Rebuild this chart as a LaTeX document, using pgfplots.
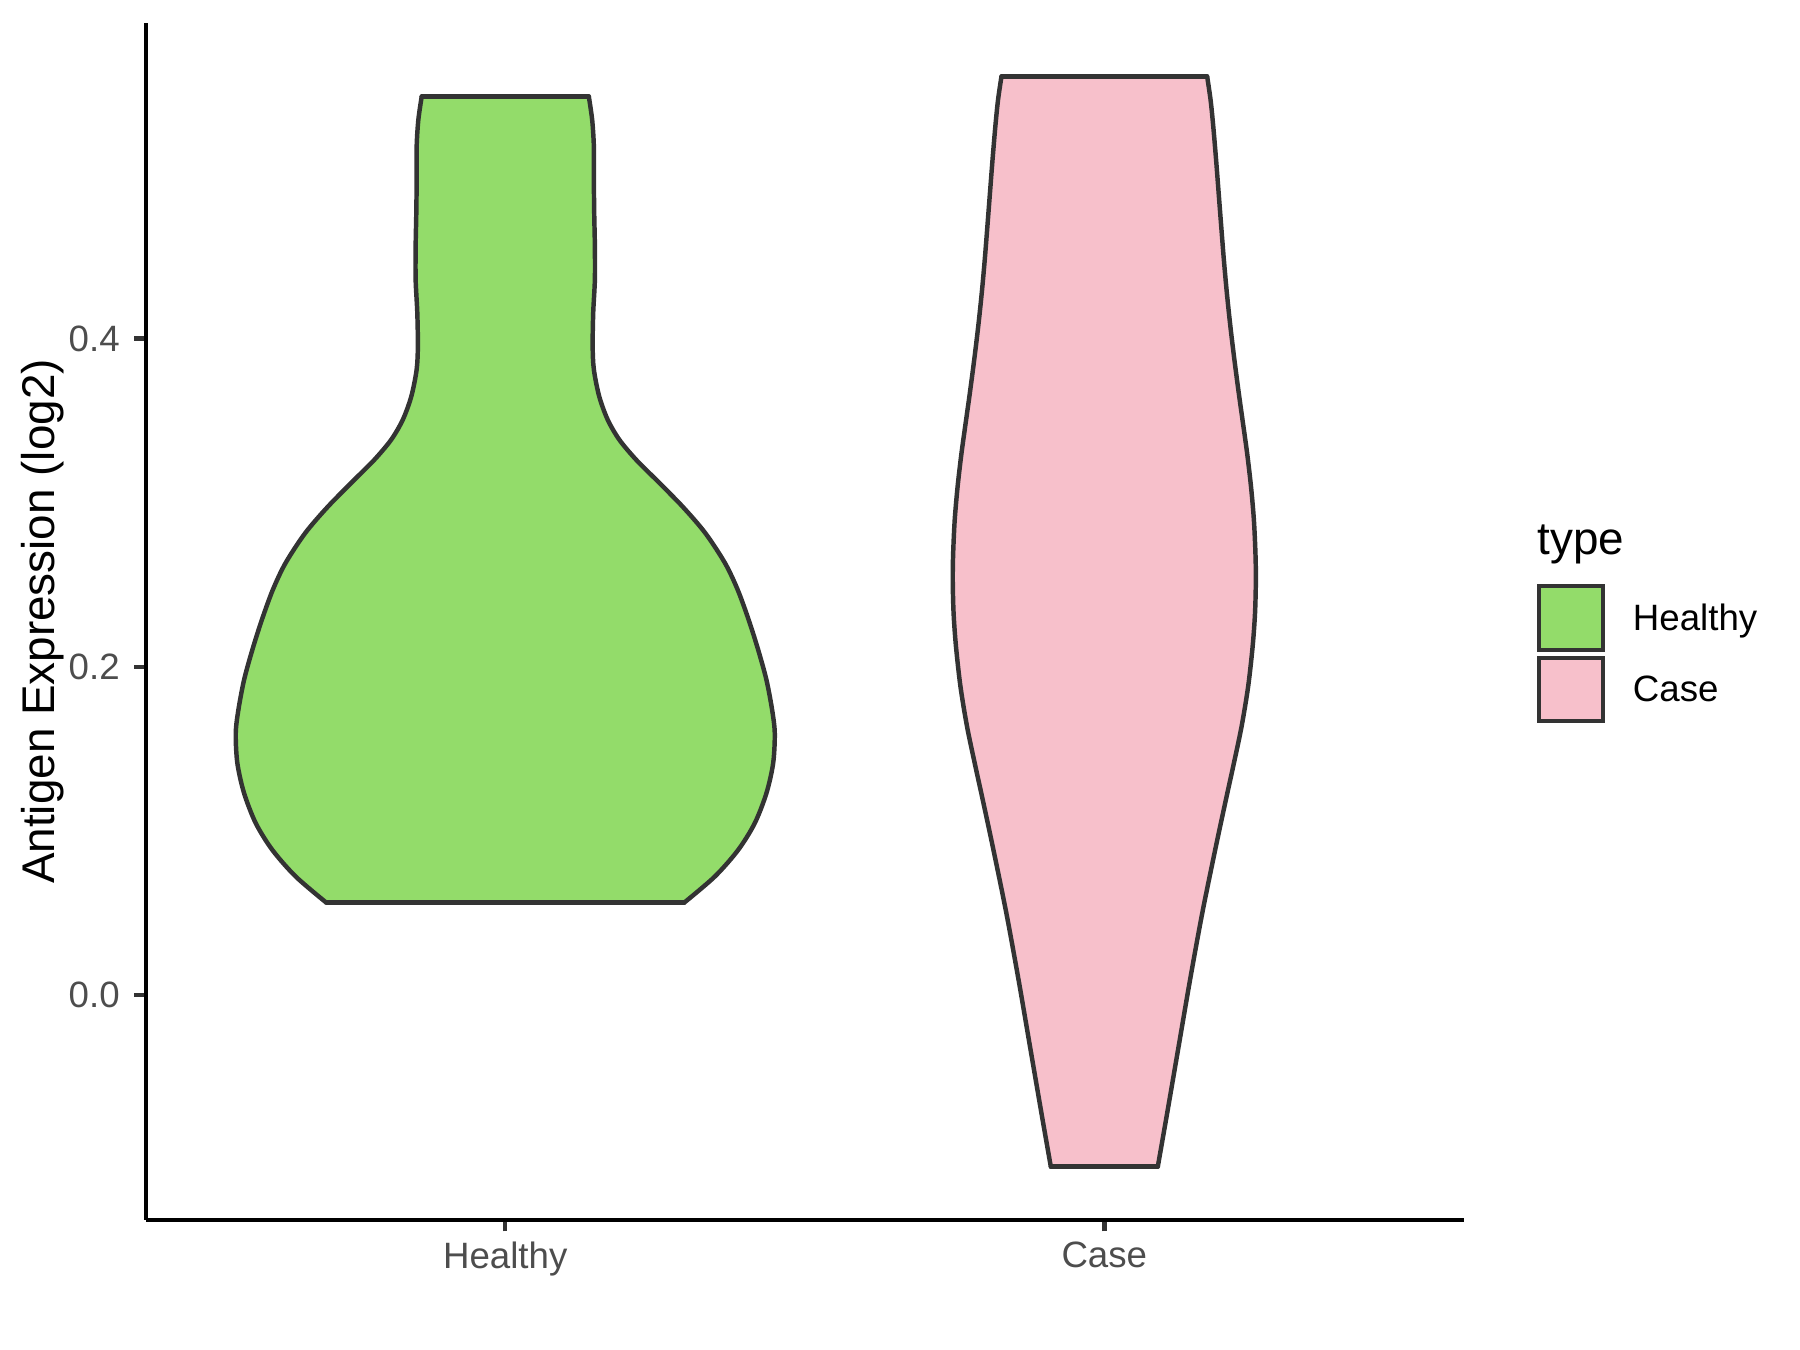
\documentclass[border=0pt]{standalone}
\usepackage{fontspec}
\setmainfont{Liberation Sans}
\usepackage{pgfplots}
\usepackage{pgfplotstable}
\pgfplotsset{compat=1.18}
\definecolor{healthy}{HTML}{93DC6A}
\definecolor{case}{HTML}{F7C0CB}
\definecolor{outl}{HTML}{333333}
\definecolor{ticklab}{HTML}{4D4D4D}

% violin half-widths (x units) against expression value
\pgfplotstableread{
y hw
0.0564 0.2987
0.0723 0.3498
0.0885 0.3888
0.1048 0.4165
0.1231 0.4360
0.1413 0.4472
0.1596 0.4499
0.1738 0.4455
0.1921 0.4360
0.2104 0.4222
0.2286 0.4064
0.2469 0.3881
0.2632 0.3669
0.2815 0.3340
0.2977 0.2959
0.3139 0.2522
0.3261 0.2187
0.3383 0.1906
0.3505 0.1711
0.3647 0.1569
0.3809 0.1480
0.3951 0.1459
0.4155 0.1468
0.4358 0.1496
0.4561 0.1496
0.4764 0.1485
0.4967 0.1479
0.5170 0.1479
0.5332 0.1451
0.5474 0.1395
}\healthytab

\pgfplotstableread{
y hw
-0.1044 0.0893
-0.0719 0.1049
-0.0313 0.1240
0.0093 0.1431
0.0500 0.1635
0.0905 0.1862
0.1210 0.2041
0.1393 0.2151
0.1636 0.2291
0.1880 0.2401
0.2124 0.2476
0.2327 0.2516
0.2530 0.2530
0.2693 0.2523
0.2896 0.2497
0.3098 0.2449
0.3302 0.2384
0.3505 0.2307
0.3667 0.2245
0.3870 0.2172
0.4073 0.2105
0.4277 0.2046
0.4479 0.1996
0.4682 0.1952
0.4886 0.1909
0.5089 0.1866
0.5292 0.1819
0.5454 0.1774
0.5596 0.1717
}\casetab

\begin{document}
\begin{tikzpicture}
\useasboundingbox (0,0) rectangle (432pt,324pt);
\begin{axis}[
  at={(35.0pt,31.2pt)}, anchor=south west,
  scale only axis, width=316.3pt, height=287.3pt,
  xmin=0.4, xmax=2.6, ymin=-0.1369, ymax=0.5923,
  axis x line*=bottom, axis y line*=left,
  axis line style={black, line width=1.07pt},
  xtick={1,2}, xticklabels={Healthy,Case},
  ytick={0,0.2,0.4},
  yticklabel style={/pgf/number format/fixed, /pgf/number format/fixed zerofill,
    /pgf/number format/precision=1},
  xticklabel style={yshift=1.1pt},
  /pgf/number format/assume math mode=true,
  tick align=outside, major tick length=2.75pt,
  tick style={outl, line width=1.07pt},
  ticklabel style={font=\fontsize{8.8}{10}\selectfont, text=ticklab},
  ylabel={Antigen Expression (log2)},
  ylabel style={font=\fontsize{11}{13}\selectfont, at={(axis description cs:-0.078,0.5)}, anchor=center},
  clip=false,
]
% Healthy (centre 1): body, then outline
\addplot[fill=healthy, draw=none] coordinates {
(0.7013,0.0564)(0.6502,0.0723)(0.6112,0.0885)(0.5835,0.1048)(0.5640,0.1231)(0.5528,0.1413)
(0.5501,0.1596)(0.5545,0.1738)(0.5640,0.1921)(0.5778,0.2104)(0.5936,0.2286)(0.6119,0.2469)
(0.6331,0.2632)(0.6660,0.2815)(0.7041,0.2977)(0.7478,0.3139)(0.7813,0.3261)(0.8094,0.3383)
(0.8289,0.3505)(0.8431,0.3647)(0.8520,0.3809)(0.8541,0.3951)(0.8532,0.4155)(0.8504,0.4358)
(0.8504,0.4561)(0.8515,0.4764)(0.8521,0.4967)(0.8521,0.5170)(0.8549,0.5332)(0.8605,0.5474)
(1.1395,0.5474)(1.1451,0.5332)(1.1479,0.5170)(1.1479,0.4967)(1.1485,0.4764)(1.1496,0.4561)
(1.1496,0.4358)(1.1468,0.4155)(1.1459,0.3951)(1.1480,0.3809)(1.1569,0.3647)(1.1711,0.3505)
(1.1906,0.3383)(1.2187,0.3261)(1.2522,0.3139)(1.2959,0.2977)(1.3340,0.2815)(1.3669,0.2632)
(1.3881,0.2469)(1.4064,0.2286)(1.4222,0.2104)(1.4360,0.1921)(1.4455,0.1738)(1.4499,0.1596)
(1.4472,0.1413)(1.4360,0.1231)(1.4165,0.1048)(1.3888,0.0885)(1.3498,0.0723)(1.2987,0.0564)
};
\addplot[draw=outl, line width=1.07pt, smooth, tension=0.5, line cap=round, line join=round]
  table[x expr=1-\thisrow{hw}, y=y] {\healthytab};
\addplot[draw=outl, line width=1.07pt, smooth, tension=0.5, line cap=round, line join=round]
  table[x expr=1+\thisrow{hw}, y=y] {\healthytab};
\addplot[draw=outl, line width=1.07pt, line cap=round] coordinates {(0.8605,0.5474) (1.1395,0.5474)};
\addplot[draw=outl, line width=1.07pt, line cap=round] coordinates {(0.7013,0.0564) (1.2987,0.0564)};
% Case (centre 2): body, then outline
\addplot[fill=case, draw=none] coordinates {
(1.9107,-0.1044)(1.8951,-0.0719)(1.8760,-0.0313)(1.8569,0.0093)(1.8365,0.0500)(1.8138,0.0905)
(1.7959,0.1210)(1.7849,0.1393)(1.7709,0.1636)(1.7599,0.1880)(1.7524,0.2124)(1.7484,0.2327)
(1.7470,0.2530)(1.7477,0.2693)(1.7503,0.2896)(1.7551,0.3098)(1.7616,0.3302)(1.7693,0.3505)
(1.7755,0.3667)(1.7828,0.3870)(1.7895,0.4073)(1.7954,0.4277)(1.8004,0.4479)(1.8048,0.4682)
(1.8091,0.4886)(1.8134,0.5089)(1.8181,0.5292)(1.8226,0.5454)(1.8283,0.5596)
(2.1717,0.5596)(2.1774,0.5454)(2.1819,0.5292)(2.1866,0.5089)(2.1909,0.4886)(2.1952,0.4682)
(2.1996,0.4479)(2.2046,0.4277)(2.2105,0.4073)(2.2172,0.3870)(2.2245,0.3667)(2.2307,0.3505)
(2.2384,0.3302)(2.2449,0.3098)(2.2497,0.2896)(2.2523,0.2693)(2.2530,0.2530)(2.2516,0.2327)
(2.2476,0.2124)(2.2401,0.1880)(2.2291,0.1636)(2.2151,0.1393)(2.2041,0.1210)(2.1862,0.0905)
(2.1635,0.0500)(2.1431,0.0093)(2.1240,-0.0313)(2.1049,-0.0719)(2.0893,-0.1044)
};
\addplot[draw=outl, line width=1.07pt, smooth, tension=0.5, line cap=round, line join=round]
  table[x expr=2-\thisrow{hw}, y=y] {\casetab};
\addplot[draw=outl, line width=1.07pt, smooth, tension=0.5, line cap=round, line join=round]
  table[x expr=2+\thisrow{hw}, y=y] {\casetab};
\addplot[draw=outl, line width=1.07pt, line cap=round] coordinates {(1.8283,0.5596) (2.1717,0.5596)};
\addplot[draw=outl, line width=1.07pt, line cap=round] coordinates {(1.9107,-0.1044) (2.0893,-0.1044)};
\end{axis}
% legend
\node[anchor=base west, inner sep=0pt, font=\fontsize{11}{13}\selectfont] at (368.8pt,190.8pt) {type};
\draw[outl, line width=1.07pt, fill=healthy] (369.4pt,168.0pt) rectangle (384.7pt,183.4pt);
\draw[outl, line width=1.07pt, fill=case] (369.4pt,151.0pt) rectangle (384.7pt,166.1pt);
\node[anchor=base west, inner sep=0pt, font=\fontsize{8.8}{10}\selectfont] at (391.7pt,172.6pt) {Healthy};
\node[anchor=base west, inner sep=0pt, font=\fontsize{8.8}{10}\selectfont] at (391.7pt,155.6pt) {Case};
\end{tikzpicture}
\end{document}
